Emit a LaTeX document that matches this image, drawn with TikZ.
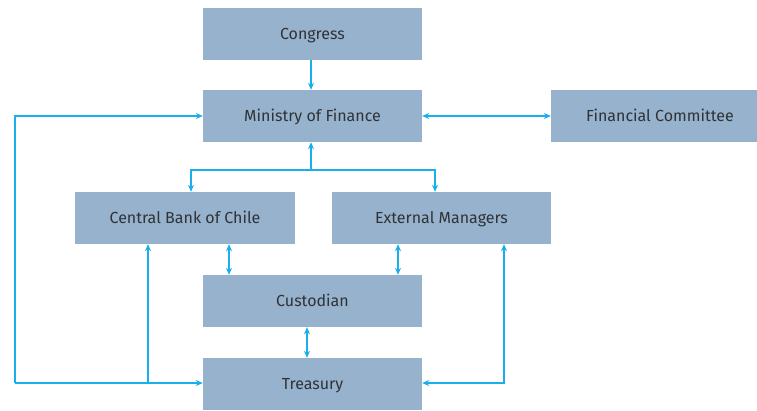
\documentclass[tikz,border=0pt]{standalone}
\usepackage{fontspec}
\setmainfont{Fira Sans}
\usetikzlibrary{arrows.meta}
\definecolor{boxfill}{HTML}{96B2CC}
\definecolor{linec}{HTML}{1AAFEA}
\definecolor{txt}{HTML}{2F3338}
\begin{document}
\begin{tikzpicture}[x=1pt,y=-1pt,
  box/.style={fill=boxfill,draw=none,minimum height=52pt,inner sep=0pt,text height=11pt,text depth=0pt,text=txt,font=\fontsize{16}{18}\selectfont},
  conn/.style={draw=linec,line width=1.2pt,-{Stealth[length=7pt,width=6pt]}},
  dconn/.style={draw=linec,line width=1.2pt,{Stealth[length=7pt,width=6pt]}-{Stealth[length=7pt,width=6pt]}}]
\useasboundingbox (0,0) rectangle (757,410);
\node[box,minimum width=219pt] (congress) at (312.5,34) {Congress};
\node[box,minimum width=219pt] (ministry) at (312.5,116) {Ministry of Finance};
\node[box,minimum width=206pt] (fincom) at (654,116) {\hspace{12pt}Financial Committee};
\node[box,minimum width=220pt] (cbank) at (185,218) {Central Bank of Chile};
\node[box,minimum width=219pt] (extm) at (441.5,218) {External Managers};
\node[box,minimum width=219pt] (cust) at (312.5,301) {Custodian};
\node[box,minimum width=219pt] (treas) at (312.5,384) {Treasury};
\coordinate (split) at (311,170);
\coordinate (lefttop) at (15,116);
\coordinate (leftbot) at (15,383);
\coordinate (cbjoin) at (148,383);
\coordinate (rightbot) at (504,383);
% connectors
\draw[conn] (congress.south -| split) -- (ministry.north -| split);
\draw[dconn] (ministry.east) -- (fincom.west);
\draw[conn] (split) -- (ministry.south -| split);
\draw[conn] (split) -| (cbank.north -| 191,0);
\draw[conn] (split) -| (extm.north -| 435,0);
\draw[dconn] (cbank.south -| 229,0) -- (cust.north -| 229,0);
\draw[dconn] (extm.south -| 398,0) -- (cust.north -| 398,0);
\draw[dconn] (cust.south -| 307,0) -- (treas.north -| 307,0);
\draw[conn] (leftbot) -- (lefttop) -- (ministry.west);
\draw[conn] (leftbot) -- (treas.west |- leftbot);
\draw[conn] (cbjoin) -- (cbank.south -| cbjoin);
\draw[dconn] (extm.south -| rightbot) -- (rightbot) -- (treas.east |- rightbot);
\end{tikzpicture}
\end{document}
